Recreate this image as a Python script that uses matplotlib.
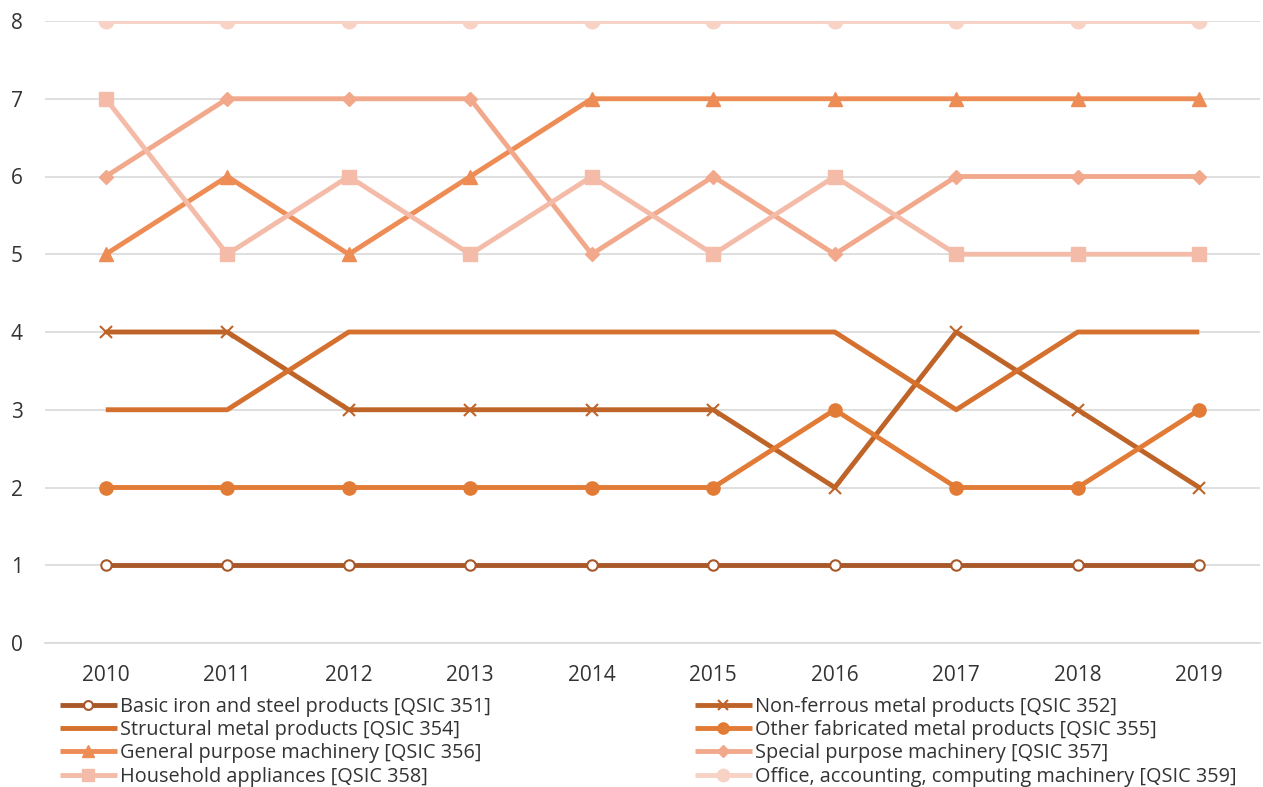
import matplotlib
matplotlib.use("Agg")
import matplotlib.pyplot as plt

years = ["2010", "2011", "2012", "2013", "2014", "2015", "2016", "2017", "2018", "2019"]
basic_iron = [1, 1, 1, 1, 1, 1, 1, 1, 1, 1]
non_ferrous = [4, 4, 3, 3, 3, 3, 2, 4, 3, 2]
structural = [3, 3, 4, 4, 4, 4, 4, 3, 4, 4]
other_fab = [2, 2, 2, 2, 2, 2, 3, 2, 2, 3]
general = [5, 6, 5, 6, 7, 7, 7, 7, 7, 7]
special = [6, 7, 7, 7, 5, 6, 5, 6, 6, 6]
household = [7, 5, 6, 5, 6, 5, 6, 5, 5, 5]
office = [8, 8, 8, 8, 8, 8, 8, 8, 8, 8]

labels = ["Basic iron and steel products [QSIC 351]",
          "Non-ferrous metal products [QSIC 352]",
          "Structural metal products [QSIC 354]",
          "Other fabricated metal products [QSIC 355]",
          "General purpose machinery [QSIC 356]",
          "Special purpose machinery [QSIC 357]",
          "Household appliances [QSIC 358]",
          "Office, accounting, computing machinery [QSIC 359]"]
series = [basic_iron, non_ferrous, structural, other_fab, general, special, household, office]
colors = ["#A9582A", "#BF6429", "#D5702E", "#E27B35", "#EE8C55", "#F1A88B", "#F4BCA8", "#F8D2C5"]
markers = ["o", "x", None, "o", "^", "D", "s", "o"]
msizes = [7.5, 8, 0, 9.5, 9.5, 7, 9.5, 10.5]

plt.rcParams['font.family'] = ['Open Sans', 'DejaVu Sans']

W, H = 1263, 787
fig = plt.figure(figsize=(W / 100, H / 100), dpi=100)
ax = fig.add_axes([45 / W, 1 - 643 / H, 1215 / W, 622 / H])
x = list(range(len(years)))
handles = []
for i, (s, lab, c, m, ms) in enumerate(zip(series, labels, colors, markers, msizes)):
    kw = dict(color=c, lw=3.5, label=lab, solid_capstyle='butt', zorder=3)
    if m is not None:
        kw.update(marker=m, markersize=ms)
        if i == 0:
            kw.update(markerfacecolor='white', markeredgecolor=c, markeredgewidth=1.5)
        elif m == "x":
            kw.update(markeredgewidth=1.5)
        else:
            kw.update(markeredgecolor=c)
    h, = ax.plot(x, s, **kw)
    handles.append(h)

ax.set_xlim(-0.5, len(years) - 0.5)
ax.set_ylim(0, 8)
ax.set_yticks(range(0, 9))
ax.set_xticks(x)
ax.set_xticklabels(years)
ax.grid(axis='y', color='#D9D9D9', lw=1.2, zorder=0)
ax.set_axisbelow(True)
for sp in ["top", "right", "left"]:
    ax.spines[sp].set_visible(False)
ax.spines["bottom"].set_color('#D9D9D9')
ax.spines["bottom"].set_linewidth(1.2)
ax.tick_params(axis='both', length=0, labelsize=15, labelcolor='#333333')
ax.tick_params(axis='x', pad=16)
ax.tick_params(axis='y', pad=16)

for col, (x0, idx) in enumerate([(60, [0, 2, 4, 6]), (695, [1, 3, 5, 7])]):
    leg = fig.legend([handles[i] for i in idx], [labels[i] for i in idx],
                     loc='upper left', bbox_to_anchor=(x0 / W, 1 - 697 / H),
                     frameon=False, fontsize=14.3, handlelength=2.85, handletextpad=0.15,
                     labelspacing=0.16, borderpad=0, borderaxespad=0,
                     labelcolor='#333333', markerscale=0.85)
fig.savefig("out.png", dpi=100)
